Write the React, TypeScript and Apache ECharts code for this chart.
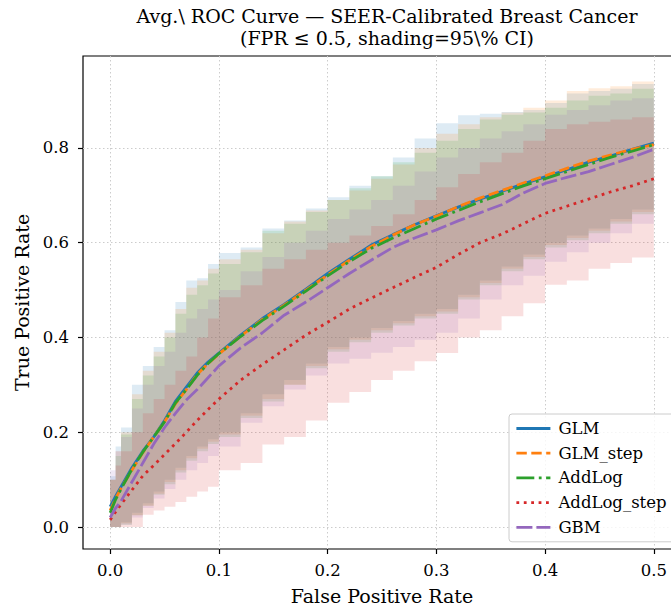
import React, { useEffect, useRef } from "react";
import * as echarts from "echarts";

const FONT = '"DejaVu Serif", serif';

const X = [0, 0.005, 0.01, 0.02, 0.03, 0.04, 0.05, 0.06, 0.07, 0.08, 0.09, 0.1, 0.12, 0.14, 0.16, 0.18, 0.2, 0.22, 0.24, 0.26, 0.28, 0.3, 0.32, 0.34, 0.36, 0.38, 0.4, 0.42, 0.44, 0.46, 0.48, 0.5];

const NAMES = ["GLM", "GLM_step", "AddLog", "AddLog_step", "GBM"];
const COLORS = ["#1f77b4", "#ff7f0e", "#2ca02c", "#d62728", "#9467bd"];

const GLM = [0.043, 0.065, 0.085, 0.125, 0.16, 0.19, 0.225, 0.265, 0.295, 0.325, 0.348, 0.367, 0.405, 0.44, 0.47, 0.502, 0.535, 0.565, 0.595, 0.617, 0.638, 0.657, 0.675, 0.692, 0.708, 0.724, 0.739, 0.754, 0.77, 0.783, 0.797, 0.81];
const GLM_STEP = [0.035, 0.06, 0.082, 0.12, 0.157, 0.19, 0.222, 0.26, 0.29, 0.322, 0.345, 0.365, 0.403, 0.438, 0.468, 0.5, 0.532, 0.563, 0.592, 0.616, 0.638, 0.656, 0.676, 0.694, 0.71, 0.726, 0.741, 0.757, 0.772, 0.785, 0.797, 0.807];
const ADDLOG = [0.03, 0.058, 0.08, 0.122, 0.158, 0.19, 0.222, 0.262, 0.29, 0.32, 0.345, 0.366, 0.402, 0.436, 0.466, 0.498, 0.53, 0.56, 0.588, 0.61, 0.63, 0.65, 0.668, 0.686, 0.703, 0.72, 0.735, 0.75, 0.765, 0.78, 0.793, 0.807];
const ADDLOG_STEP = [0.015, 0.032, 0.048, 0.078, 0.108, 0.13, 0.153, 0.176, 0.2, 0.225, 0.248, 0.27, 0.31, 0.343, 0.374, 0.405, 0.432, 0.46, 0.483, 0.505, 0.527, 0.548, 0.575, 0.6, 0.618, 0.64, 0.662, 0.677, 0.692, 0.707, 0.72, 0.735];
const GBM = [0.02, 0.04, 0.055, 0.095, 0.135, 0.175, 0.21, 0.24, 0.268, 0.29, 0.315, 0.34, 0.378, 0.41, 0.447, 0.475, 0.505, 0.535, 0.563, 0.59, 0.61, 0.627, 0.646, 0.663, 0.68, 0.705, 0.725, 0.738, 0.75, 0.765, 0.78, 0.797];

const GLM_LO = [0, 0, 0.01, 0.03, 0.05, 0.075, 0.1, 0.125, 0.15, 0.17, 0.185, 0.2, 0.24, 0.28, 0.31, 0.345, 0.38, 0.4, 0.42, 0.435, 0.45, 0.46, 0.49, 0.52, 0.55, 0.575, 0.6, 0.615, 0.63, 0.65, 0.67, 0.68];
const GLM_HI = [0.107, 0.17, 0.21, 0.3, 0.34, 0.38, 0.415, 0.475, 0.52, 0.525, 0.555, 0.578, 0.59, 0.63, 0.647, 0.672, 0.696, 0.72, 0.74, 0.78, 0.82, 0.852, 0.869, 0.872, 0.876, 0.88, 0.895, 0.915, 0.92, 0.925, 0.935, 0.945];
const GLM_STEP_LO = [0, 0, 0.008, 0.025, 0.045, 0.07, 0.095, 0.12, 0.145, 0.165, 0.18, 0.195, 0.235, 0.27, 0.3, 0.34, 0.375, 0.395, 0.415, 0.43, 0.445, 0.455, 0.485, 0.515, 0.545, 0.57, 0.595, 0.61, 0.625, 0.645, 0.665, 0.675];
const GLM_STEP_HI = [0.1, 0.16, 0.2, 0.28, 0.33, 0.37, 0.41, 0.46, 0.505, 0.52, 0.545, 0.565, 0.585, 0.62, 0.645, 0.668, 0.69, 0.71, 0.735, 0.765, 0.8, 0.83, 0.85, 0.865, 0.875, 0.885, 0.9, 0.92, 0.926, 0.93, 0.94, 0.947];
const ADDLOG_LO = [0, 0, 0.005, 0.025, 0.045, 0.068, 0.09, 0.115, 0.14, 0.16, 0.175, 0.19, 0.23, 0.265, 0.3, 0.335, 0.37, 0.39, 0.41, 0.425, 0.44, 0.45, 0.48, 0.51, 0.54, 0.565, 0.59, 0.605, 0.62, 0.64, 0.66, 0.67];
const ADDLOG_HI = [0.1, 0.15, 0.195, 0.27, 0.32, 0.36, 0.4, 0.45, 0.49, 0.51, 0.535, 0.555, 0.58, 0.625, 0.64, 0.665, 0.69, 0.715, 0.74, 0.77, 0.79, 0.815, 0.84, 0.86, 0.87, 0.875, 0.885, 0.9, 0.91, 0.915, 0.925, 0.935];
const ADDLOG_STEP_LO = [0, 0, 0, 0, 0.026, 0.035, 0.043, 0.053, 0.064, 0.075, 0.085, 0.12, 0.135, 0.174, 0.19, 0.225, 0.262, 0.285, 0.31, 0.33, 0.35, 0.367, 0.4, 0.415, 0.445, 0.472, 0.511, 0.52, 0.545, 0.557, 0.569, 0.57];
const ADDLOG_STEP_HI = [0.1, 0.13, 0.16, 0.2, 0.24, 0.27, 0.3, 0.33, 0.36, 0.4, 0.44, 0.485, 0.51, 0.545, 0.565, 0.585, 0.6, 0.615, 0.635, 0.66, 0.69, 0.717, 0.745, 0.77, 0.79, 0.815, 0.84, 0.85, 0.855, 0.86, 0.865, 0.869];
const GBM_LO = [0, 0, 0.005, 0.02, 0.04, 0.06, 0.08, 0.1, 0.12, 0.135, 0.15, 0.17, 0.22, 0.255, 0.29, 0.32, 0.345, 0.355, 0.368, 0.38, 0.395, 0.41, 0.44, 0.48, 0.51, 0.53, 0.56, 0.58, 0.6, 0.62, 0.64, 0.65];
const GBM_HI = [0.12, 0.16, 0.19, 0.25, 0.3, 0.34, 0.37, 0.41, 0.44, 0.46, 0.48, 0.5, 0.54, 0.57, 0.6, 0.625, 0.65, 0.67, 0.69, 0.72, 0.75, 0.78, 0.8, 0.82, 0.835, 0.85, 0.87, 0.88, 0.89, 0.9, 0.905, 0.91];

const X_TICKS = [0, 0.1, 0.2, 0.3, 0.4, 0.5];
const Y_TICKS = [0, 0.2, 0.4, 0.6, 0.8];

const MEANS = [GLM, GLM_STEP, ADDLOG, ADDLOG_STEP, GBM];
const LOWS = [GLM_LO, GLM_STEP_LO, ADDLOG_LO, ADDLOG_STEP_LO, GBM_LO];
const HIGHS = [GLM_HI, GLM_STEP_HI, ADDLOG_HI, ADDLOG_STEP_HI, GBM_HI];
const LW = 2.8;
const DASHES: any[] = ["solid", [10.4, 4.5], [17.9, 4.5, 2.8, 4.5], [2.8, 4.6], [16, 4]];

function bandSeries(k: number) {
  const lo = LOWS[k];
  const hi = HIGHS[k];
  return {
    type: "custom",
    name: NAMES[k] + " CI",
    silent: true,
    z: 1,
    data: [[X[0], lo[0]]],
    encode: { x: 0, y: 1 },
    renderItem: (_p: any, api: any) => {
      const pts: number[][] = [];
      for (let i = 0; i < X.length; i++) {
        pts.push(api.coord([X[i], hi[i]]));
        if (i < X.length - 1) pts.push(api.coord([X[i + 1], hi[i]]));
      }
      for (let i = X.length - 1; i >= 0; i--) {
        if (i < X.length - 1) pts.push(api.coord([X[i + 1], lo[i]]));
        pts.push(api.coord([X[i], lo[i]]));
      }
      return {
        type: "polygon",
        shape: { points: pts },
        style: { fill: COLORS[k], opacity: 0.15 },
      };
    },
  };
}

function lineSeries(k: number) {
  return {
    type: "line",
    name: NAMES[k],
    z: 3 + k,
    symbol: "none",
    showSymbol: false,
    data: X.map((x, i) => [x, MEANS[k][i]]),
    lineStyle: { color: COLORS[k], width: LW, type: DASHES[k], cap: "butt" },
    itemStyle: { color: COLORS[k] },
  };
}

export default function App() {
  const ref = useRef<HTMLDivElement>(null);
  useEffect(() => {
    document.body.style.margin = "0";
    if (!ref.current) return;
    const chart = echarts.init(ref.current, null, { renderer: "svg" });
    const axisCommon = {
      type: "value",
      axisLine: { show: false, onZero: false },
      axisTick: { show: true, inside: false, length: 5, lineStyle: { color: "#000", width: 1.2 } },
      splitLine: { show: true, lineStyle: { color: "#cccccc", width: 1, type: [1.5, 2.5] } },
      nameLocation: "middle",
      nameTextStyle: { fontFamily: FONT, fontSize: 19, color: "#000" },
    };
    const option: any = {
      animation: false,
      backgroundColor: "#ffffff",
      title: {
        text: "Avg.\\ ROC Curve — SEER-Calibrated Breast Cancer\n(FPR ≤ 0.5, shading=95\\% CI)",
        left: 382,
        textAlign: "center",
        top: 0,
        textStyle: { fontFamily: FONT, fontSize: 19, fontWeight: "normal", color: "#000", lineHeight: 22 },
      },
      grid: {
        left: 83,
        top: 56,
        right: -10,
        bottom: 59,
        show: true,
        borderColor: "#000",
        borderWidth: 1.2,
        backgroundColor: "transparent",
        containLabel: false,
        outerBoundsMode: "none",
      },
      legend: {
        orient: "vertical",
        left: 509,
        top: 414,
        itemWidth: 34,
        itemHeight: 14,
        itemGap: 7.7,
        padding: [6, 14, 6, 6],
        backgroundColor: "rgba(255,255,255,0.8)",
        borderColor: "#cccccc",
        borderWidth: 1,
        borderRadius: 3,
        itemStyle: { opacity: 0 },
        lineStyle: { opacity: 1, width: LW },
        textStyle: { fontFamily: FONT, fontSize: 16.5, color: "#000", padding: [0, 0, 0, 3], lineHeight: 17 },
        data: NAMES,
      },
      xAxis: {
        ...axisCommon,
        min: -0.025,
        max: 0.525,
        name: "False Positive Rate",
        nameGap: 37,
        axisTick: { ...axisCommon.axisTick, customValues: X_TICKS },
        axisLabel: {
          customValues: X_TICKS,
          margin: 13,
          fontFamily: FONT,
          fontSize: 16.5,
          color: "#000",
          formatter: (v: number) => v.toFixed(1),
        },
      },
      yAxis: {
        ...axisCommon,
        min: -0.0464,
        max: 0.994,
        name: "True Positive Rate",
        nameGap: 46,
        axisTick: { ...axisCommon.axisTick, customValues: Y_TICKS },
        axisLabel: {
          customValues: Y_TICKS,
          margin: 14,
          fontFamily: FONT,
          fontSize: 16.5,
          color: "#000",
          formatter: (v: number) => v.toFixed(1),
        },
      },
      series: [
        ...NAMES.map((_, k) => bandSeries(k)),
        ...NAMES.map((_, k) => lineSeries(k)),
      ],
    };
    chart.setOption(option);
    return () => chart.dispose();
  }, []);
  return <div ref={ref} style={{ position: "absolute", left: 0, top: 0, width: 671, height: 608 }} />;
}
